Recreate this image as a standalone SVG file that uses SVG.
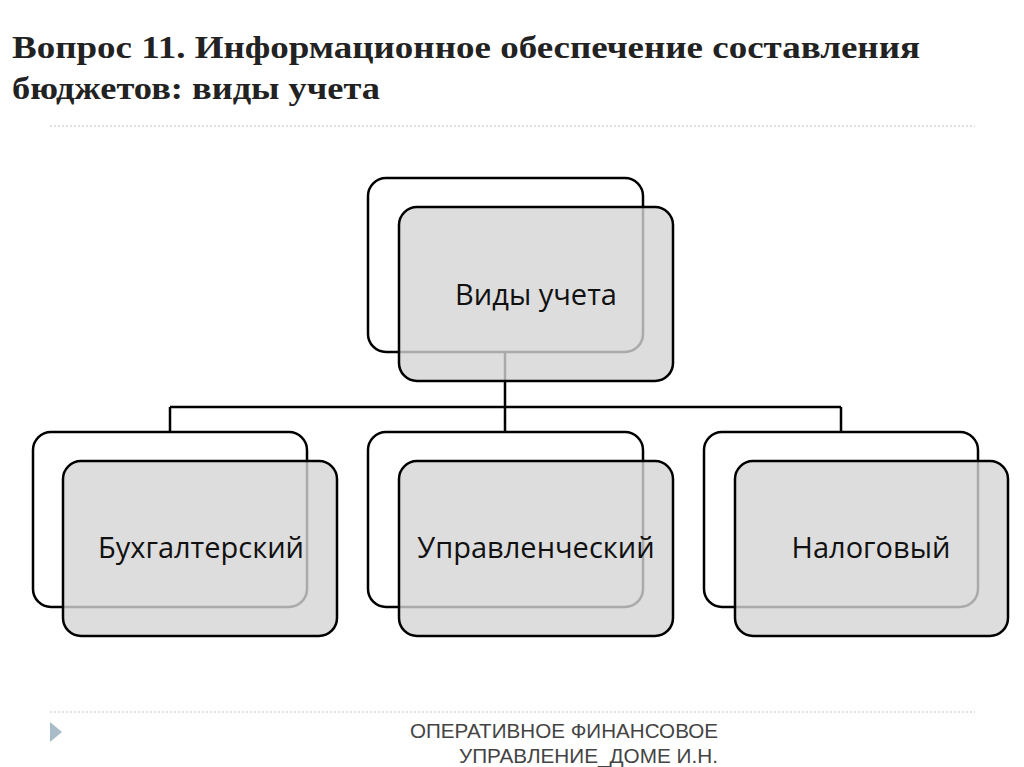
<svg xmlns="http://www.w3.org/2000/svg" width="1024" height="767" viewBox="0 0 1024 767">
<style>
.back{fill:#fff;stroke:#000;stroke-width:2.5}
.front{fill:#d4d4d4;fill-opacity:0.8;stroke:#000;stroke-width:2.5}
.lbl{font-family:"Open Sans","Noto Sans",sans-serif;font-size:29px;fill:#111;text-anchor:middle}
.ttl{font-family:"Liberation Serif",serif;font-weight:bold;font-size:32px;fill:#222}
.ft{font-family:"Liberation Sans",Arial,sans-serif;font-size:21px;fill:#444}
.dash{stroke:#b8c4c4;stroke-width:1.2;stroke-dasharray:2 2}
</style>
<rect width="1024" height="767" fill="#fff"/>
<text class="ttl" x="12" y="58" textLength="908" lengthAdjust="spacingAndGlyphs">Вопрос 11. Информационное обеспечение составления</text>
<text class="ttl" x="12" y="99" textLength="368" lengthAdjust="spacingAndGlyphs">бюджетов: виды учета</text>
<line class="dash" x1="50" y1="126" x2="975" y2="126"/>
<g id="connectors" stroke="#000" stroke-width="2.5" fill="none">
<path d="M505 381V407M170 407H841M170 407V432M505 407V432M841 407V432"/>
</g>
<g id="n0"><rect class="back" x="368" y="178" width="275" height="174" rx="18"/><line x1="505" y1="352" x2="505" y2="381" stroke="#000" stroke-width="2.5"/><rect class="front" x="399" y="207" width="274" height="174" rx="18"/><text class="lbl" x="536" y="305">Виды учета</text></g>
<g id="n1"><rect class="back" x="33" y="432" width="274" height="175" rx="18"/><rect class="front" x="63" y="461" width="274" height="175" rx="18"/><text class="lbl" x="201" y="558">Бухгалтерский</text></g>
<g id="n2"><rect class="back" x="368" y="432" width="275" height="175" rx="18"/><rect class="front" x="399" y="461" width="274" height="175" rx="18"/><text class="lbl" x="536" y="558">Управленческий</text></g>
<g id="n3"><rect class="back" x="704" y="432" width="274" height="175" rx="18"/><rect class="front" x="735" y="461" width="273" height="175" rx="18"/><text class="lbl" x="871" y="558">Налоговый</text></g>
<line class="dash" x1="50" y1="712" x2="975" y2="712"/>
<polygon points="50,722 62,732 50,742" fill="#a9bcc8"/>
<text class="ft" x="410" y="738" textLength="308" lengthAdjust="spacingAndGlyphs">ОПЕРАТИВНОЕ ФИНАНСОВОЕ</text>
<text class="ft" x="459" y="763" textLength="259" lengthAdjust="spacingAndGlyphs">УПРАВЛЕНИЕ_ДОМЕ И.Н.</text>
</svg>
